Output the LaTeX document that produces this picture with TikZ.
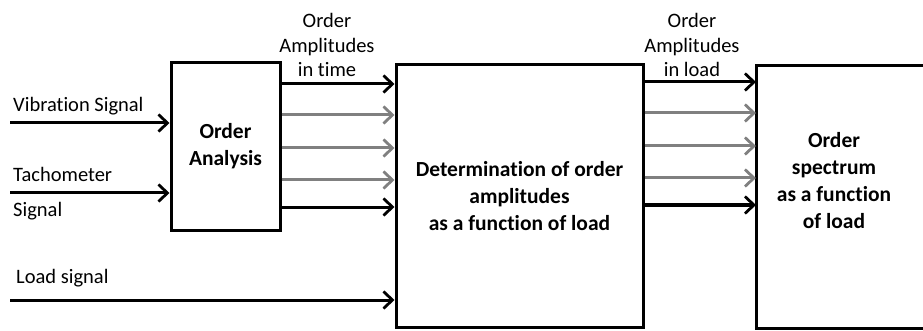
\documentclass[tikz,border=0pt]{standalone}
\usepackage{fontspec}
\setmainfont{Carlito}[RawFeature=-liga]
\usetikzlibrary{arrows.meta,positioning}
\tikzset{
  blk/.style={draw, line width=3pt, fill=white, inner sep=0pt, align=center,
    font=\fontsize{21.5}{27}\selectfont\bfseries},
  lbl/.style={inner sep=0pt, align=center, font=\fontsize{20.5}{24.5}\selectfont},
  sig/.style={line width=3pt, -{Straight Barb[length=9pt,width=17pt,line width=2.8pt]}},
  sigg/.style={sig, gray}
}
\begin{document}
\begin{tikzpicture}[x=1pt,y=-1pt]
        % Frame of the picture
        \useasboundingbox (0,0) rectangle (923,331);
        % Blocks
        \node[blk, minimum width=109, minimum height=167] (oa) at (225.5,146.5) {Order\\Analysis};
        \node[blk, minimum width=247, minimum height=262] (det) at (519.5,196) {Determination of order\\amplitudes\\as a function\ of load};
        % last block runs off the right edge
        \node[blk, draw=none, minimum width=167, minimum height=260] (spec) at (841,197) {};
        \draw[line width=3pt, line cap=rect] (spec.north east) -- (spec.north west) -- (spec.south west) -- (spec.south east);
        \node[lbl, font=\fontsize{21.5}{27}\selectfont\bfseries] (spectxt) at (834,181) {Order\\spectrum\\as a function\\of load};
        % Inputs
        \coordinate (vib) at (10,123);
        \coordinate (tach) at (10,193);
        \coordinate (load) at (10,300);
        \draw[sig] (vib) -- (oa.west |- vib);
        \draw[sig] (tach) -- (oa.west |- tach);
        \draw[sig] (load) -- (det.west |- load);
        \node[lbl, anchor=west] (viblbl) at (13,106) {Vibration Signal};
        \node[lbl, anchor=west] (tachlbl) at (13,174) {Tachometer};
        \node[lbl, anchor=west] (siglbl) at (13,211) {Signal};
        \node[lbl, anchor=west] (loadlbl) at (16,278) {Load signal};
        % Order amplitudes
        \foreach \y/\s in {84/sig,115/sigg,148/sigg,180/sigg,207/sig}{
          \draw[\s] (oa.east |- 0,\y) -- (det.west |- 0,\y);
          \draw[\s] (det.east |- 0,\y-2) -- (spec.west |- 0,\y-2);
        }
        \node[lbl] (timelbl) at (327,45) {Order\\Amplitudes\\in time};
        \node[lbl] (loadamp) at (692,45) {Order\\Amplitudes\\in load};
\end{tikzpicture}
\end{document}
